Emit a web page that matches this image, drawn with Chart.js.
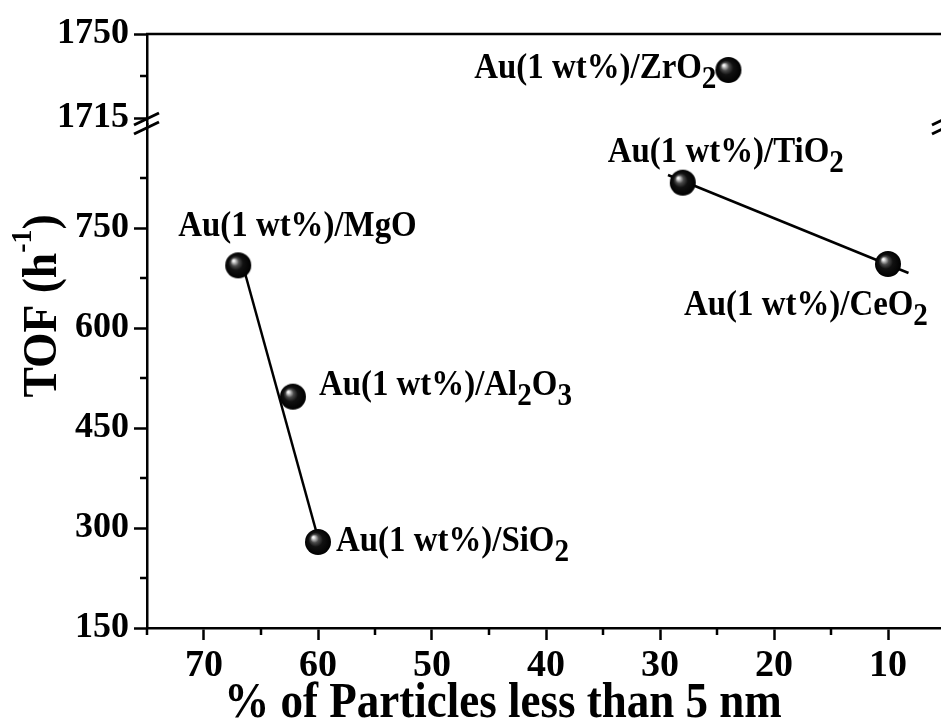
<!DOCTYPE html>
<html><head><meta charset="utf-8">
<script src="https://cdn.jsdelivr.net/npm/chart.js@4"></script>
<style>
html,body{margin:0;padding:0;background:#fff;overflow:hidden;width:941px;height:723px}
canvas{display:block}
</style></head>
<body><canvas id="c" width="960" height="723"></canvas>
<script>
// ---- data ----
const supports    = ['MgO', 'Al2O3', 'SiO2', 'TiO2', 'CeO2'];
const particlePct = [67, 62.2, 60, 28, 10];
const tof         = [694, 497, 279, 818, 696];
const upperSupports = ['ZrO2'];
const upperPct      = [24];
const upperTof      = [1735];
const fitMgSiX  = [66.6, 59.9];
const fitMgSiY  = [694.5, 279];
const fitTiCeX  = [29.3, 8.2];
const fitTiCeY  = [829.5, 682.5];
const xMajorTicks   = [10, 20, 30, 40, 50, 60, 70];
const xMinorTicks   = [5, 15, 25, 35, 45, 55, 65, 75];
const yLowerMajor   = [150, 300, 450, 600, 750];
const yLowerMinor   = [225, 375, 525, 675, 825];
const yUpperMajor   = [1715, 1750];
const yUpperMinor   = [1732.5];
const xRange      = [5, 75];
const yLowerRange = [150, 906];
const yUpperRange = [1712.5, 1750];
const xTitle = '% of Particles less than 5 nm';
const yTitleMain = 'TOF (h', yTitleSup = '-1', yTitleEnd = ')';

// ---- styling ----
const FAMILY = "'Liberation Serif','Times New Roman',serif";
const labelOffsets = {           // text placement relative to its marker (px)
  MgO:   {dx: -60, dy: -29, align: 'left'},
  Al2O3: {dx: 26,  dy: -2,  align: 'left'},
  SiO2:  {dx: 18,  dy: 9,   align: 'left'},
  TiO2:  {dx: -75, dy: -21, align: 'left'},
  CeO2:  {dx: -204,dy: 51,  align: 'left'},
  ZrO2:  {dx: -12, dy: 8,   align: 'right'}
};

function makeBall(r) {
  const s = 2 * r + 2;
  const c = document.createElement('canvas');
  c.width = c.height = s;
  const g = c.getContext('2d');
  const cx = s / 2, cy = s / 2;
  const grad = g.createRadialGradient(cx - r * 0.38, cy - r * 0.38, 0, cx, cy, r);
  grad.addColorStop(0, '#ffffff');
  grad.addColorStop(0.08, '#e8e8e8');
  grad.addColorStop(0.2, '#9a9a9a');
  grad.addColorStop(0.32, '#4a4a4a');
  grad.addColorStop(0.55, '#111111');
  grad.addColorStop(1, '#000000');
  g.fillStyle = grad;
  g.beginPath(); g.arc(cx, cy, r, 0, Math.PI * 2); g.fill();
  return c;
}
const ball = makeBall(13);

function splitLabel(name) {
  const parts = [['Au(1 wt%)/', false]];
  name.replace(/(\d+)|(\D+)/g, (m, d) => { parts.push([m, !!d]); return m; });
  return parts;
}
const SX = 0.94; // horizontal condensing of the serif text
function drawLabel(ctx, name, x, y, align) {
  const main = 'bold 35px ' + FAMILY, sub = 'bold 31px ' + FAMILY;
  const parts = splitLabel(name);
  let w = 0;
  parts.forEach(p => { ctx.font = p[1] ? sub : main; w += ctx.measureText(p[0]).width; });
  const left = align === 'right' ? x - w * SX : x;
  ctx.save();
  ctx.translate(left, y); ctx.scale(SX, 1);
  let cx = 0;
  ctx.textAlign = 'left'; ctx.textBaseline = 'alphabetic'; ctx.fillStyle = '#000';
  parts.forEach(p => {
    ctx.font = p[1] ? sub : main;
    ctx.fillText(p[0], cx, p[1] ? 10 : 0);
    cx += ctx.measureText(p[0]).width;
  });
  ctx.restore();
}

const decor = {
  id: 'decor',
  afterDatasetsDraw(chart) {
    const ctx = chart.ctx, a = chart.chartArea;
    const xs = chart.scales.x, yb = chart.scales.yBot, yt = chart.scales.yTop;
    ctx.save();
    ctx.strokeStyle = '#000'; ctx.lineWidth = 2.5; ctx.lineCap = 'butt';
    // frame top and right
    ctx.beginPath();
    ctx.moveTo(a.left - 1, a.top); ctx.lineTo(a.right, a.top); ctx.lineTo(a.right, a.bottom);
    ctx.stroke();
    // minor ticks
    ctx.beginPath();
    xMinorTicks.forEach(v => { const p = xs.getPixelForValue(v); ctx.moveTo(p, a.bottom); ctx.lineTo(p, a.bottom + 7); });
    yLowerMinor.forEach(v => { const p = yb.getPixelForValue(v); ctx.moveTo(a.left, p); ctx.lineTo(a.left - 7, p); });
    yUpperMinor.forEach(v => { const p = yt.getPixelForValue(v); ctx.moveTo(a.left, p); ctx.lineTo(a.left - 7, p); });
    ctx.stroke();
    // axis break marks
    const br = yt.bottom;
    ctx.lineWidth = 3;
    [a.left, a.right].forEach(ax => {
      ctx.beginPath();
      ctx.moveTo(ax - 13, br + 1);  ctx.lineTo(ax + 12, br - 11);
      ctx.moveTo(ax - 13, br + 10); ctx.lineTo(ax + 12, br - 2);
      ctx.stroke();
    });
    // point labels
    const m1 = chart.getDatasetMeta(2), m2 = chart.getDatasetMeta(3);
    supports.forEach((s, i) => {
      const el = m1.data[i], o = labelOffsets[s];
      drawLabel(ctx, s, el.x + o.dx, el.y + o.dy, o.align);
    });
    upperSupports.forEach((s, i) => {
      const el = m2.data[i], o = labelOffsets[s];
      drawLabel(ctx, s, el.x + o.dx, el.y + o.dy, o.align);
    });
    // axis titles
    ctx.fillStyle = '#000';
    ctx.textBaseline = 'alphabetic';
    ctx.save();
    ctx.font = 'bold 50px ' + FAMILY;
    ctx.textAlign = 'center';
    ctx.translate(503, 717); ctx.scale(0.9, 1);
    ctx.fillText(xTitle, 0, 0);
    ctx.restore();
    ctx.translate(56, 306); ctx.rotate(-Math.PI / 2); ctx.scale(0.93, 1);
    const mainF = 'bold 49px ' + FAMILY, supF = 'bold 30px ' + FAMILY;
    ctx.font = mainF; const w1 = ctx.measureText(yTitleMain).width, w3 = ctx.measureText(yTitleEnd).width;
    ctx.font = supF; const w2 = ctx.measureText(yTitleSup).width;
    let x0 = -(w1 + w2 + w3) / 2;
    ctx.textAlign = 'left';
    ctx.font = mainF; ctx.fillText(yTitleMain, x0, 0); x0 += w1;
    ctx.font = supF; ctx.fillText(yTitleSup, x0, -25); x0 += w2;
    ctx.font = mainF; ctx.fillText(yTitleEnd, x0, 0);
    ctx.restore();
  }
};

const tickFont = size => ({family: FAMILY, size: size, weight: 'bold'});
const yCommon = {
  type: 'linear', position: 'left', stack: 'left', offset: false,
  afterFit: s => { s.width = 147; },
  grid: {display: true, drawOnChartArea: false, drawTicks: true, tickLength: 13, tickWidth: 2.5, tickColor: '#000', color: '#000'},
  border: {display: true, color: '#000', width: 2.5},
  ticks: {font: tickFont(36), color: '#000', padding: 5, autoSkip: false, callback: v => String(v)}
};

new Chart(document.getElementById('c'), {
  type: 'scatter',
  data: {datasets: [
    {label: 'fit MgO-SiO2', data: fitMgSiX.map((x, i) => ({x: x, y: fitMgSiY[i]})), yAxisID: 'yBot',
     showLine: true, borderColor: '#000', borderWidth: 2.5, pointRadius: 0, order: 2},
    {label: 'fit TiO2-CeO2', data: fitTiCeX.map((x, i) => ({x: x, y: fitTiCeY[i]})), yAxisID: 'yBot',
     showLine: true, borderColor: '#000', borderWidth: 2.5, pointRadius: 0, order: 2},
    {label: 'supports', data: particlePct.map((x, i) => ({x: x, y: tof[i]})), yAxisID: 'yBot',
     pointStyle: ball, pointRadius: 13, order: 1},
    {label: 'ZrO2', data: upperPct.map((x, i) => ({x: x, y: upperTof[i]})), yAxisID: 'yTop',
     pointStyle: ball, pointRadius: 13, order: 1}
  ]},
  options: {
    responsive: false, animation: false, devicePixelRatio: 1,
    layout: {padding: {left: 0, right: 15, top: 34, bottom: 0}},
    plugins: {legend: {display: false}, tooltip: {enabled: false}},
    scales: {
      x: {type: 'linear', reverse: true, min: xRange[0], max: xRange[1], position: 'bottom',
          afterBuildTicks: s => { s.ticks = xMajorTicks.map(v => ({value: v})); },
          afterFit: s => { s.height = 95; },
          grid: {display: true, drawOnChartArea: false, drawTicks: true, tickLength: 12, tickWidth: 2.5, tickColor: '#000', color: '#000'},
          border: {display: true, color: '#000', width: 2.5},
          ticks: {font: tickFont(38), color: '#000', padding: 3, maxRotation: 0, autoSkip: false, callback: v => String(v)}},
      yTop: Object.assign({}, yCommon, {stackWeight: 90, weight: 1, min: yUpperRange[0], max: yUpperRange[1],
          afterBuildTicks: s => { s.ticks = yUpperMajor.map(v => ({value: v})); }}),
      yBot: Object.assign({}, yCommon, {stackWeight: 504, weight: 0, min: yLowerRange[0], max: yLowerRange[1],
          afterBuildTicks: s => { s.ticks = yLowerMajor.map(v => ({value: v})); }})
    }
  },
  plugins: [decor]
});
</script>
</body></html>
